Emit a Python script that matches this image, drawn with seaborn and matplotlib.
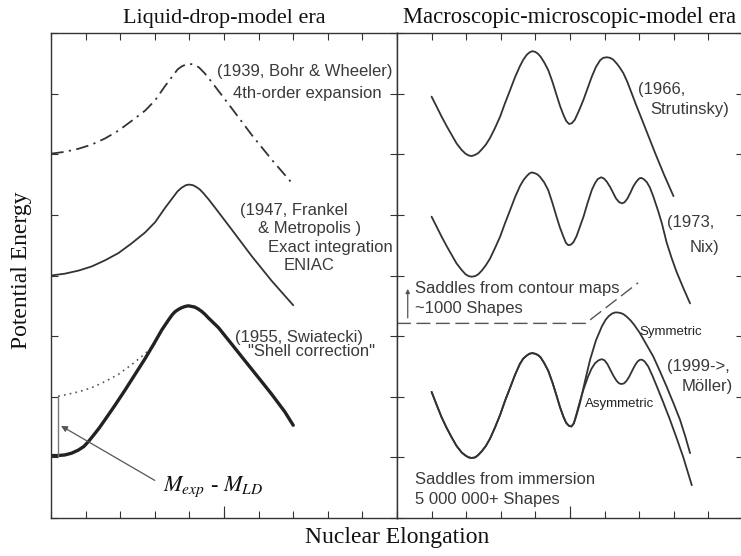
import matplotlib
matplotlib.use("Agg")
import matplotlib.pyplot as plt
import seaborn as sns

# ---------------- Liquid-drop-model era ----------------
# 1939, Bohr & Wheeler (4th-order expansion)
bw_x = [0.0, 0.40, 0.79, 1.18, 1.56, 1.95, 2.33, 2.72, 3.01, 3.29, 3.54, 3.66, 3.78, 3.90, 4.02,
        4.12, 4.20, 4.28, 4.35, 4.45, 4.55, 4.74, 5.22, 5.80, 6.38, 7.0]
bw_y = [6.01, 6.04, 6.09, 6.16, 6.26, 6.39, 6.55, 6.72, 6.89, 7.12, 7.31, 7.40, 7.45, 7.48, 7.49,
        7.48, 7.46, 7.43, 7.39, 7.33, 7.26, 7.12, 6.76, 6.32, 5.91, 5.50]

# 1947, Frankel & Metropolis (exact integration, ENIAC)
fm_x = [0.0, 0.40, 0.79, 1.18, 1.56, 1.95, 2.33, 2.72, 3.01, 3.29, 3.54, 3.66, 3.78, 3.90, 3.99,
        4.10, 4.20, 4.30, 4.40, 4.55, 4.74, 5.22, 5.80, 6.38, 7.0]
fm_y = [4.00, 4.03, 4.08, 4.15, 4.25, 4.37, 4.53, 4.71, 4.88, 5.11, 5.30, 5.39, 5.45, 5.49, 5.50,
        5.49, 5.46, 5.42, 5.36, 5.26, 5.12, 4.76, 4.32, 3.91, 3.51]

# 1955, Swiatecki (shell correction)
sw_x = [0.0, 0.20, 0.40, 0.60, 0.79, 0.95, 1.08, 1.25, 1.40, 1.56, 1.85, 2.14, 2.43, 2.72, 2.96,
        3.20, 3.40, 3.50, 3.58, 3.68, 3.78, 3.88, 3.97, 4.06, 4.15, 4.25, 4.35, 4.45, 4.55, 4.84,
        5.22, 5.61, 5.99, 6.38, 6.76, 7.0]
sw_y = [1.03, 1.03, 1.04, 1.07, 1.12, 1.18, 1.26, 1.38, 1.49, 1.62, 1.86, 2.11, 2.37, 2.63, 2.86,
        3.10, 3.27, 3.35, 3.40, 3.44, 3.47, 3.49, 3.50, 3.49, 3.48, 3.45, 3.41, 3.36, 3.30, 3.14,
        2.87, 2.59, 2.32, 2.04, 1.75, 1.53]

# liquid-drop reference branch (dotted)
ld_x = [0.21, 0.40, 0.79, 1.18, 1.56, 1.95, 2.33, 2.72, 3.01]
ld_y = [2.01, 2.03, 2.08, 2.15, 2.25, 2.37, 2.53, 2.71, 2.88]

# ---------------- Macroscopic-microscopic-model era ----------------
# 1966, Strutinsky
st_x = [1.0, 1.15, 1.29, 1.44, 1.58, 1.72, 1.87, 1.98, 2.07, 2.16, 2.26, 2.35, 2.45, 2.57, 2.69,
        2.83, 2.98, 3.12, 3.27, 3.41, 3.55, 3.65, 3.75, 3.83, 3.91, 3.99, 4.07, 4.15, 4.25, 4.37,
        4.49, 4.61, 4.71, 4.81, 4.89, 4.97, 5.05, 5.14, 5.26, 5.39, 5.51, 5.63, 5.75, 5.87, 5.96,
        6.06, 6.16, 6.25, 6.36, 6.45, 6.54, 6.66, 6.78, 6.92, 7.06, 7.26, 7.46, 7.72, 7.99]
st_y = [6.95, 6.78, 6.62, 6.46, 6.32, 6.18, 6.07, 6.01, 5.98, 5.97, 5.99, 6.02, 6.08, 6.16, 6.27,
        6.43, 6.62, 6.84, 7.06, 7.27, 7.45, 7.56, 7.64, 7.68, 7.70, 7.69, 7.66, 7.61, 7.52, 7.39,
        7.20, 6.98, 6.80, 6.65, 6.55, 6.50, 6.51, 6.57, 6.72, 6.90, 7.09, 7.28, 7.44, 7.55, 7.59,
        7.60, 7.59, 7.56, 7.49, 7.42, 7.34, 7.19, 7.01, 6.80, 6.60, 6.31, 6.02, 5.66, 5.31]

# 1973, Nix
nx_x = [1.0, 1.15, 1.29, 1.44, 1.58, 1.72, 1.87, 1.98, 2.07, 2.16, 2.26, 2.35, 2.45, 2.57, 2.69,
        2.83, 2.98, 3.12, 3.27, 3.41, 3.55, 3.65, 3.75, 3.82, 3.89, 3.97, 4.05, 4.13, 4.25, 4.37,
        4.49, 4.61, 4.71, 4.81, 4.88, 4.95, 5.03, 5.10, 5.19, 5.29, 5.39, 5.51, 5.63, 5.72, 5.80,
        5.90, 5.98, 6.06, 6.16, 6.25, 6.33, 6.42, 6.51, 6.58, 6.66, 6.75, 6.83, 6.92, 7.0, 7.06,
        7.13, 7.22, 7.31, 7.41, 7.55, 7.66, 7.79, 7.93, 8.08, 8.27, 8.47]
nx_y = [4.97, 4.80, 4.64, 4.48, 4.34, 4.20, 4.09, 4.02, 3.99, 3.98, 3.99, 4.02, 4.08, 4.17, 4.28,
        4.45, 4.64, 4.86, 5.08, 5.29, 5.47, 5.57, 5.64, 5.68, 5.70, 5.69, 5.67, 5.63, 5.54, 5.41,
        5.20, 4.97, 4.79, 4.64, 4.54, 4.50, 4.51, 4.55, 4.65, 4.81, 4.97, 5.20, 5.41, 5.52, 5.59,
        5.62, 5.60, 5.55, 5.46, 5.36, 5.27, 5.21, 5.19, 5.21, 5.27, 5.37, 5.47, 5.55, 5.60, 5.61,
        5.59, 5.54, 5.45, 5.30, 5.06, 4.85, 4.55, 4.30, 4.06, 3.80, 3.54]

# 1999->, Moller: shared first part, then symmetric / asymmetric branches
mo_x = [1.0, 1.15, 1.29, 1.44, 1.58, 1.72, 1.87, 1.98, 2.07, 2.16, 2.26, 2.35, 2.45, 2.57, 2.69,
        2.83, 2.98, 3.12, 3.27, 3.41, 3.55, 3.65, 3.75, 3.83, 3.91, 3.99, 4.07, 4.15, 4.25, 4.37,
        4.49, 4.61, 4.71, 4.81, 4.89, 4.97, 5.04]
mo_y = [2.08, 1.86, 1.66, 1.48, 1.33, 1.19, 1.08, 1.03, 1.00, 0.99, 1.00, 1.04, 1.10, 1.19, 1.31,
        1.49, 1.70, 1.93, 2.15, 2.36, 2.54, 2.63, 2.68, 2.71, 2.72, 2.71, 2.69, 2.65, 2.56, 2.43,
        2.24, 2.02, 1.83, 1.67, 1.57, 1.52, 1.51]
sym_x = [5.11, 5.19, 5.29, 5.43, 5.58, 5.75, 5.92, 6.03, 6.12, 6.21, 6.30, 6.38, 6.47, 6.55,
         6.64, 6.75, 6.85, 7.02, 7.20, 7.41, 7.60, 7.79, 8.0, 8.18, 8.33, 8.47]
sym_y = [1.56, 1.70, 1.90, 2.25, 2.61, 2.93, 3.16, 3.27, 3.33, 3.37, 3.39, 3.39, 3.38, 3.36,
         3.32, 3.26, 3.19, 3.05, 2.87, 2.66, 2.42, 2.17, 1.88, 1.62, 1.35, 1.07]
asy_x = [5.11, 5.19, 5.29, 5.39, 5.52, 5.62, 5.72, 5.82, 5.92, 6.00, 6.08, 6.16, 6.26, 6.35,
         6.42, 6.49, 6.56, 6.63, 6.70, 6.78, 6.87, 6.95, 7.02, 7.09, 7.16, 7.26, 7.38, 7.51,
         7.70, 7.89, 8.08, 8.27, 8.52]
asy_y = [1.56, 1.72, 1.93, 2.12, 2.33, 2.46, 2.55, 2.60, 2.62, 2.60, 2.54, 2.45, 2.34, 2.26,
         2.22, 2.21, 2.22, 2.26, 2.32, 2.41, 2.51, 2.58, 2.61, 2.61, 2.58, 2.50, 2.35, 2.17,
         1.90, 1.62, 1.32, 1.01, 0.54]

# contour-map saddle level (dashed)
cm_x = [0.0, 5.45, 6.97]
cm_y = [3.21, 3.21, 3.88]

panel_titles = ["Liquid-drop-model era", "Macroscopic-microscopic-model era"]
x_label = "Nuclear Elongation"
y_label = "Potential Energy"

sns.set_style("ticks")
plt.rcParams["mathtext.fontset"] = "stix"
SERIF = "Liberation Serif"
SANS = "Liberation Sans"
INK = "#333333"
TXT = "#3a3a3a"

fig = plt.figure(figsize=(7.41, 5.56), dpi=100)
W, H = 741, 556
bottom = (H - 518) / H
height = (518 - 33) / H
axL = fig.add_axes([51 / W, bottom, 346 / W, height])
axR = fig.add_axes([397 / W, bottom, 346 / W, height])

for ax in (axL, axR):
    ax.set_xlim(0, 10)
    ax.set_ylim(0, 8)
    ax.set_xticks(range(0, 11))
    ax.set_yticks(range(0, 9))
    ax.set_xticklabels([])
    ax.set_yticklabels([])
    ax.xaxis.remove_overlapping_locs = False
    ax.set_xticks([5], minor=True)
    ax.tick_params(which="major", direction="in", length=5, width=0.8, color=INK,
                   top=True, bottom=True, left=True, right=True)
    ax.tick_params(which="minor", axis="x", direction="in", length=9, width=0.8, color=INK,
                   top=False, bottom=True)
    ax.tick_params(which="minor", axis="y", left=False, right=False)
    for s in ax.spines.values():
        s.set_visible(True)
        s.set_color(INK)
        s.set_linewidth(1.0)
    ax.set_xlabel("")
    ax.set_ylabel("")

axL.set_title(panel_titles[0], family=SERIF, fontsize=16, pad=7, color="#111111")
axR.set_title(panel_titles[1], family=SERIF, fontsize=16.3, pad=7, color="#111111")
fig.text(397 / W, 1 - 537 / H, x_label, family=SERIF, fontsize=17, ha="center",
         va="center", color="#111111")
fig.text(22 / W, 1 - 270 / H, y_label, family=SERIF, fontsize=17, ha="center",
         va="center", rotation=90, color="#111111")


def curve(ax, x, y, lw=1.3, color=INK, ls="-"):
    sns.lineplot(x=x, y=y, ax=ax, sort=False, estimator=None, color=color, lw=lw,
                 linestyle=ls, solid_capstyle="round", solid_joinstyle="round")


# left panel curves
curve(axL, bw_x, bw_y, lw=1.3, ls=(0, (7, 3, 1.2, 3)))
curve(axL, fm_x, fm_y, lw=1.3)
curve(axL, ld_x, ld_y, lw=1.2, color="#555555", ls=(0, (1, 2.5)))
curve(axL, sw_x, sw_y, lw=2.4, color="#222222")

# mass difference bracket and arrow
axL.plot([0.21, 0.21], [1.03, 2.01], color="#777777", lw=1.0)
axL.annotate("", xy=(0.29, 1.52), xytext=(3.0, 0.62),
             arrowprops=dict(arrowstyle="-|>", color="#555555", lw=0.9,
                             mutation_scale=9, shrinkA=0, shrinkB=0))
axL.text(3.24, 0.51, r"$M_{exp}$ - $M_{LD}$", family=SERIF, fontsize=16,
         ha="left", va="center", color="#111111")

lab = dict(family=SANS, fontsize=12, color=TXT, ha="left", va="center")
axL.text(4.80, 7.36, "(1939, Bohr & Wheeler)", **lab)
axL.text(5.26, 7.00, "4th-order expansion", **lab)
axL.text(5.46, 5.08, "(1947, Frankel", **lab)
axL.text(5.98, 4.77, "& Metropolis )", **lab)
axL.text(6.27, 4.47, "Exact integration", **lab)
axL.text(6.71, 4.17, "ENIAC", **lab)
axL.text(5.32, 2.98, "(1955, Swiatecki)", **lab)
axL.text(5.69, 2.74, "\"Shell correction\"", **lab)

# right panel curves
curve(axR, st_x, st_y, lw=1.3)
curve(axR, nx_x, nx_y, lw=1.3)
curve(axR, mo_x + sym_x, mo_y + sym_y, lw=1.3)
curve(axR, mo_x + asy_x, mo_y + asy_y, lw=1.3)
curve(axR, cm_x, cm_y, lw=1.0, color="#555555", ls=(0, (10, 4)))

axR.annotate("", xy=(0.31, 3.78), xytext=(0.31, 3.30),
             arrowprops=dict(arrowstyle="-|>", color="#555555", lw=0.9,
                             mutation_scale=6, shrinkA=0, shrinkB=0))

axR.text(6.97, 7.06, "(1966,", **lab)
axR.text(7.31, 6.73, "Strutinsky)", **lab)
axR.text(7.80, 4.87, "(1973,", **lab)
axR.text(8.47, 4.47, "Nix)", **lab)
axR.text(0.52, 3.78, "Saddles from contour maps", **lab)
axR.text(0.52, 3.45, "~1000 Shapes", **lab)
axR.text(7.79, 2.50, "(1999->,", **lab)
axR.text(8.23, 2.17, "Möller)", **lab)
axR.text(0.52, 0.64, "Saddles from immersion", **lab)
axR.text(0.52, 0.30, "5 000 000+ Shapes", **lab)
small = dict(family=SANS, fontsize=9.5, color="#222222", ha="left", va="center")
axR.text(7.02, 3.07, "Symmetric", **small)
axR.text(5.43, 1.88, "Asymmetric", **small)

fig.savefig("out.png", dpi=100)
